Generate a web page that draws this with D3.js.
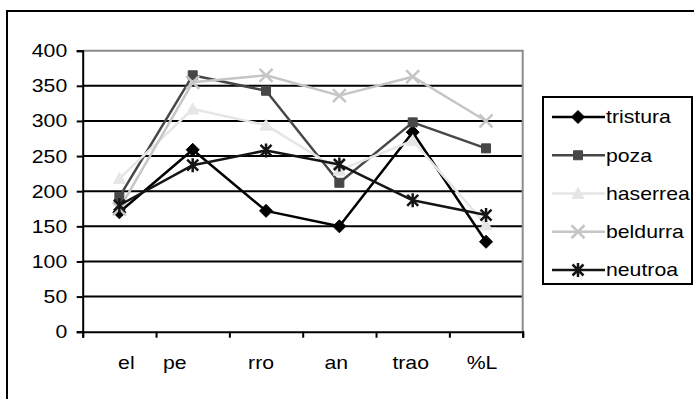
<!DOCTYPE html>
<html>
<head>
<meta charset="utf-8">
<script src="https://cdn.jsdelivr.net/npm/d3@7"></script>
<style>
  html, body { margin: 0; padding: 0; background: #fff; }
  svg { display: block; font-family: "Liberation Sans", Arial, sans-serif; }
</style>
</head>
<body>
<svg id="chart" width="694" height="399"></svg>
<script>
// ---- data ----
const categories = ["el", "pe", "rro", "an", "trao", "%L"];
const seriesNames = ["tristura", "poza", "haserrea", "beldurra", "neutroa"];
const tristura = [170, 259, 172, 150, 284, 128];
const poza     = [192, 365, 343, 212, 298, 261];
const haserrea = [218, 317, 294, 230, 272, 152];
const beldurra = [175, 355, 365, 336, 363, 300];
const neutroa  = [180, 237, 258, 238, 187, 166];
const yTicks = [0, 50, 100, 150, 200, 250, 300, 350, 400];

// ---- styles ----
const seriesValues = [tristura, poza, haserrea, beldurra, neutroa];
const seriesColors = ["#000000", "#474747", "#e6e6e6", "#c6c6c6", "#151515"];
const seriesMarkers = ["diamond", "square", "triangle", "x", "star"];
const labelShift = [7, -18, -5, -3, -2, -4];
const stretch = 1.18;
const fontSize = 18;

const svg = d3.select("#chart");

// outer frame (only top and left visible)
svg.append("rect")
  .attr("x", 7).attr("y", 11).attr("width", 720).attr("height", 420)
  .attr("fill", "none").attr("stroke", "#000").attr("stroke-width", 2);

const plot = { left: 82.7, right: 522.7, top: 50.7, bottom: 331.7 };

const x = d3.scaleBand().domain(categories).range([plot.left, plot.right]);
const y = d3.scaleLinear().domain([0, 400]).range([plot.bottom, plot.top]);

// gridlines
svg.append("g").selectAll("line")
  .data(yTicks.filter(t => t > 0 && t < 400))
  .join("line")
  .attr("x1", plot.left).attr("x2", plot.right)
  .attr("y1", d => y(d)).attr("y2", d => y(d))
  .attr("stroke", "#000").attr("stroke-width", 2);

// plot border top/right (grey)
svg.append("path")
  .attr("d", `M${plot.left},${y(400)}H${plot.right}V${plot.bottom}`)
  .attr("fill", "none").attr("stroke", "#8c8c8c").attr("stroke-width", 2);

// y axis
const yAxis = svg.append("g")
  .attr("transform", `translate(${plot.left},0)`)
  .call(d3.axisLeft(y).tickValues(yTicks).tickSize(6).tickPadding(9).tickFormat(d3.format("d")));
yAxis.select(".domain").attr("stroke", "#000").attr("stroke-width", 2);
yAxis.selectAll(".tick line").attr("stroke", "#000").attr("stroke-width", 2);
yAxis.selectAll(".tick text")
  .attr("font-size", fontSize)
  .attr("font-family", "Liberation Sans, Arial, sans-serif")
  .attr("fill", "#000")
  .attr("dy", "0.33em")
  .each(function() {
    const t = d3.select(this);
    const tx = +t.attr("x");
    t.attr("x", 0).attr("transform", `translate(${tx - 0.5},0) scale(${stretch},1)`);
  });

// x axis
const xEdges = categories.map(c => x(c)).concat([x(categories[categories.length - 1]) + x.bandwidth()]);
const xAxisScale = d3.scaleLinear().domain([0, categories.length]).range([plot.left, plot.right]);
const xAxis = svg.append("g")
  .attr("transform", `translate(0,${plot.bottom})`)
  .call(d3.axisBottom(xAxisScale).tickValues(d3.range(categories.length + 1)).tickSize(6).tickFormat(""));
xAxis.select(".domain").attr("stroke", "#000").attr("stroke-width", 2);
xAxis.selectAll(".tick line").attr("stroke", "#000").attr("stroke-width", 2);

svg.append("g").selectAll("text")
  .data(categories)
  .join("text")
  .attr("transform", (d, i) => `translate(${x(d) + x.bandwidth() / 2 + labelShift[i]},369) scale(${stretch},1)`)
  .attr("text-anchor", "middle")
  .attr("font-size", fontSize)
  .attr("fill", "#000")
  .text(d => d);

// marker generator
function markerPath(type) {
  switch (type) {
    case "diamond": return "M0,-6.5L6.5,0L0,6.5L-6.5,0Z";
    case "square": return "M-4.5,-4.5H4.5V4.5H-4.5Z";
    case "triangle": return "M0,-6L6,5H-6Z";
    case "x": return "M-6.5,-6.5L6.5,6.5M-6.5,6.5L6.5,-6.5";
    case "star": return "M-5.5,-5.5L5.5,5.5M-5.5,5.5L5.5,-5.5M0,-7V7";
  }
}
const strokeMarkers = new Set(["x", "star"]);

const line = d3.line()
  .x((d, i) => x(categories[i]) + x.bandwidth() / 2)
  .y(d => y(d));

seriesNames.forEach((name, si) => {
  const vals = seriesValues[si];
  const color = seriesColors[si];
  const mk = seriesMarkers[si];
  const g = svg.append("g");
  g.append("path")
    .attr("d", line(vals))
    .attr("fill", "none")
    .attr("stroke", color)
    .attr("stroke-width", 2.5)
    .attr("stroke-linejoin", "round");
  g.selectAll("path.m")
    .data(vals)
    .join("path")
    .attr("class", "m")
    .attr("transform", (d, i) => `translate(${x(categories[i]) + x.bandwidth() / 2},${y(d)})`)
    .attr("d", markerPath(mk))
    .attr("fill", strokeMarkers.has(mk) ? "none" : color)
    .attr("stroke", color)
    .attr("stroke-width", strokeMarkers.has(mk) ? 2.5 : 1);
});

// legend
const legend = svg.append("g");
legend.append("rect")
  .attr("x", 543).attr("y", 97).attr("width", 149).attr("height", 187)
  .attr("fill", "#fff").attr("stroke", "#000").attr("stroke-width", 2);
const legendY = d3.scalePoint().domain(seriesNames).range([117, 270]);
seriesNames.forEach((name, si) => {
  const cy = legendY(name);
  const color = seriesColors[si];
  const mk = seriesMarkers[si];
  legend.append("line")
    .attr("x1", 552).attr("x2", 605).attr("y1", cy).attr("y2", cy)
    .attr("stroke", color).attr("stroke-width", 2.5);
  legend.append("path")
    .attr("transform", `translate(578,${cy})`)
    .attr("d", markerPath(mk))
    .attr("fill", strokeMarkers.has(mk) ? "none" : color)
    .attr("stroke", color)
    .attr("stroke-width", strokeMarkers.has(mk) ? 2.5 : 1);
  legend.append("text")
    .attr("transform", `translate(606,${cy + 6.3}) scale(${stretch},1)`)
    .attr("font-size", fontSize)
    .attr("fill", "#000")
    .text(name);
});
</script>
</body>
</html>
